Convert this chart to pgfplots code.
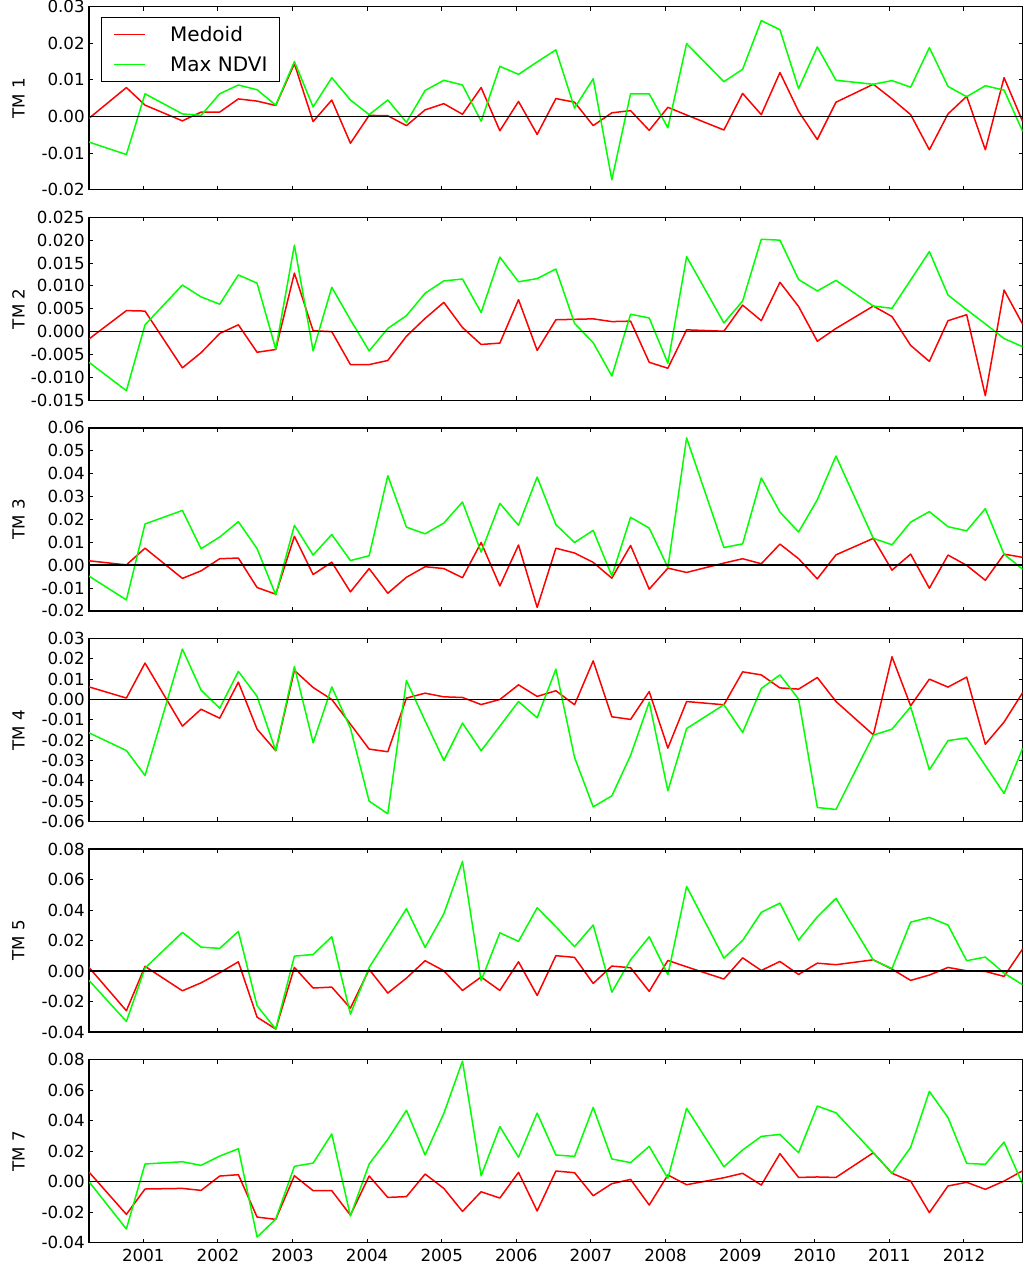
\documentclass[border=0pt]{standalone}
\usepackage{pgfplots}
\pgfplotsset{compat=1.18}
\usepackage{pgfplotstable}
\usepackage{fontspec}
\setmainfont{DejaVu Sans}
\definecolor{mred}{RGB}{255,0,0}
\definecolor{mgreen}{RGB}{0,255,0}

\pgfplotstableread{
x m g
2000.272 -0.0005 -0.0070
2000.773 0.0079 -0.0104
2001.023 0.0031 0.0062
2001.524 -0.0012 0.0007
2001.774 0.0012 0.0003
2002.024 0.0012 0.0062
2002.274 0.0048 0.0086
2002.525 0.0042 0.0073
2002.775 0.0030 0.0031
2003.025 0.0144 0.0150
2003.276 -0.0014 0.0026
2003.526 0.0045 0.0106
2003.776 -0.0073 0.0045
2004.027 0.0003 0.0005
2004.277 0.0002 0.0045
2004.527 -0.0025 -0.0016
2004.777 0.0018 0.0071
2005.028 0.0035 0.0099
2005.278 0.0006 0.0086
2005.528 0.0079 -0.0013
2005.779 -0.0039 0.0137
2006.029 0.0041 0.0115
2006.279 -0.0049 0.0149
2006.530 0.0049 0.0182
2006.780 0.0039 0.0023
2007.030 -0.0025 0.0103
2007.280 0.0010 -0.0173
2007.531 0.0016 0.0062
2007.781 -0.0038 0.0062
2008.031 0.0025 -0.0031
2008.282 0.0004 0.0199
2008.782 -0.0037 0.0095
2009.033 0.0063 0.0129
2009.283 0.0005 0.0262
2009.533 0.0120 0.0237
2009.783 0.0014 0.0076
2010.034 -0.0063 0.0190
2010.284 0.0039 0.0099
2010.785 0.0088 0.0088
2011.035 0.0048 0.0098
2011.285 0.0005 0.0080
2011.536 -0.0091 0.0188
2011.786 0.0007 0.0082
2012.036 0.0055 0.0054
2012.286 -0.0091 0.0084
2012.537 0.0106 0.0072
2012.787 -0.0014 -0.0041
}\tmA

\pgfplotstableread{
x m g
2000.272 -0.0016 -0.0067
2000.773 0.0046 -0.0129
2001.023 0.0045 0.0015
2001.524 -0.0079 0.0102
2001.774 -0.0046 0.0076
2002.024 -0.0004 0.0060
2002.274 0.0015 0.0124
2002.525 -0.0045 0.0106
2002.775 -0.0039 -0.0038
2003.025 0.0128 0.0189
2003.276 0.0002 -0.0042
2003.526 0.0000 0.0097
2003.776 -0.0072 0.0026
2004.027 -0.0072 -0.0042
2004.277 -0.0063 0.0007
2004.527 -0.0010 0.0035
2004.777 0.0029 0.0084
2005.028 0.0064 0.0111
2005.278 0.0009 0.0115
2005.528 -0.0028 0.0042
2005.779 -0.0025 0.0163
2006.029 0.0070 0.0109
2006.279 -0.0041 0.0116
2006.530 0.0026 0.0137
2006.780 0.0027 0.0018
2007.030 0.0028 -0.0024
2007.280 0.0022 -0.0097
2007.531 0.0023 0.0038
2007.781 -0.0067 0.0030
2008.031 -0.0080 -0.0069
2008.282 0.0004 0.0164
2008.782 0.0001 0.0019
2009.033 0.0058 0.0067
2009.283 0.0024 0.0202
2009.533 0.0108 0.0200
2009.783 0.0055 0.0114
2010.034 -0.0021 0.0089
2010.284 0.0007 0.0112
2010.785 0.0056 0.0056
2011.035 0.0033 0.0051
2011.285 -0.0030 0.0113
2011.536 -0.0065 0.0175
2011.786 0.0024 0.0080
2012.036 0.0037 0.0048
2012.286 -0.0140 0.0017
2012.537 0.0091 -0.0015
2012.787 0.0016 -0.0033
}\tmB

\pgfplotstableread{
x m g
2000.272 0.0019 -0.0048
2000.773 0.0001 -0.0152
2001.023 0.0074 0.0180
2001.524 -0.0058 0.0239
2001.774 -0.0025 0.0072
2002.024 0.0028 0.0123
2002.274 0.0031 0.0190
2002.525 -0.0098 0.0072
2002.775 -0.0127 -0.0130
2003.025 0.0126 0.0174
2003.276 -0.0041 0.0044
2003.526 0.0013 0.0134
2003.776 -0.0117 0.0020
2004.027 -0.0015 0.0041
2004.277 -0.0123 0.0391
2004.527 -0.0053 0.0166
2004.777 -0.0007 0.0137
2005.028 -0.0015 0.0184
2005.278 -0.0055 0.0276
2005.528 0.0099 0.0057
2005.779 -0.0091 0.0270
2006.029 0.0088 0.0174
2006.279 -0.0185 0.0385
2006.530 0.0074 0.0177
2006.780 0.0053 0.0099
2007.030 0.0012 0.0152
2007.280 -0.0057 -0.0047
2007.531 0.0086 0.0209
2007.781 -0.0105 0.0162
2008.031 -0.0013 -0.0010
2008.282 -0.0032 0.0556
2008.782 0.0009 0.0077
2009.033 0.0028 0.0093
2009.283 0.0006 0.0381
2009.533 0.0092 0.0232
2009.783 0.0028 0.0145
2010.034 -0.0060 0.0286
2010.284 0.0045 0.0477
2010.785 0.0117 0.0117
2011.035 -0.0022 0.0089
2011.285 0.0048 0.0188
2011.536 -0.0101 0.0234
2011.786 0.0044 0.0168
2012.036 -0.0001 0.0150
2012.286 -0.0066 0.0247
2012.537 0.0048 0.0048
2012.787 0.0034 -0.0018
}\tmC

\pgfplotstableread{
x m g
2000.272 0.0062 -0.0164
2000.773 0.0007 -0.0251
2001.023 0.0179 -0.0374
2001.524 -0.0131 0.0248
2001.774 -0.0048 0.0046
2002.024 -0.0092 -0.0043
2002.274 0.0085 0.0138
2002.525 -0.0146 0.0015
2002.775 -0.0252 -0.0252
2003.025 0.0143 0.0162
2003.276 0.0059 -0.0213
2003.526 0.0000 0.0062
2003.776 -0.0121 -0.0141
2004.027 -0.0244 -0.0500
2004.277 -0.0257 -0.0562
2004.527 0.0007 0.0093
2004.777 0.0031 -0.0105
2005.028 0.0013 -0.0300
2005.278 0.0010 -0.0116
2005.528 -0.0025 -0.0252
2005.779 0.0000 -0.0131
2006.029 0.0072 -0.0010
2006.279 0.0015 -0.0090
2006.530 0.0043 0.0149
2006.780 -0.0026 -0.0285
2007.030 0.0190 -0.0528
2007.280 -0.0085 -0.0474
2007.531 -0.0098 -0.0275
2007.781 0.0039 -0.0013
2008.031 -0.0239 -0.0449
2008.282 -0.0010 -0.0143
2008.782 -0.0026 -0.0026
2009.033 0.0136 -0.0162
2009.283 0.0121 0.0054
2009.533 0.0057 0.0121
2009.783 0.0051 0.0002
2010.034 0.0108 -0.0531
2010.284 -0.0010 -0.0541
2010.785 -0.0174 -0.0175
2011.035 0.0210 -0.0146
2011.285 -0.0031 -0.0036
2011.536 0.0100 -0.0346
2011.786 0.0061 -0.0202
2012.036 0.0110 -0.0189
2012.286 -0.0220 -0.0325
2012.537 -0.0111 -0.0462
2012.787 0.0034 -0.0239
}\tmD

\pgfplotstableread{
x m g
2000.272 0.0024 -0.0061
2000.773 -0.0260 -0.0330
2001.023 0.0031 0.0020
2001.524 -0.0129 0.0254
2001.774 -0.0077 0.0157
2002.024 -0.0011 0.0149
2002.274 0.0061 0.0260
2002.525 -0.0302 -0.0227
2002.775 -0.0380 -0.0380
2003.025 0.0024 0.0098
2003.276 -0.0111 0.0109
2003.526 -0.0105 0.0225
2003.776 -0.0243 -0.0282
2004.027 0.0011 0.0024
2004.277 -0.0144 0.0216
2004.527 -0.0046 0.0409
2004.777 0.0068 0.0155
2005.028 0.0002 0.0376
2005.278 -0.0127 0.0719
2005.528 -0.0039 -0.0063
2005.779 -0.0127 0.0251
2006.029 0.0061 0.0195
2006.279 -0.0160 0.0415
2006.530 0.0101 0.0291
2006.780 0.0090 0.0160
2007.030 -0.0081 0.0302
2007.280 0.0033 -0.0138
2007.531 0.0022 0.0074
2007.781 -0.0133 0.0225
2008.031 0.0070 -0.0024
2008.282 0.0028 0.0555
2008.782 -0.0052 0.0085
2009.033 0.0087 0.0201
2009.283 0.0004 0.0385
2009.533 0.0063 0.0446
2009.783 -0.0022 0.0203
2010.034 0.0052 0.0356
2010.284 0.0042 0.0477
2010.785 0.0074 0.0072
2011.035 0.0013 0.0017
2011.285 -0.0061 0.0321
2011.536 -0.0026 0.0352
2011.786 0.0024 0.0302
2012.036 0.0002 0.0068
2012.286 -0.0002 0.0092
2012.537 -0.0035 -0.0013
2012.787 0.0146 -0.0090
}\tmE

\pgfplotstableread{
x m g
2000.272 0.0063 0.0000
2000.773 -0.0214 -0.0310
2001.023 -0.0048 0.0116
2001.524 -0.0044 0.0131
2001.774 -0.0057 0.0107
2002.024 0.0037 0.0168
2002.274 0.0046 0.0216
2002.525 -0.0232 -0.0363
2002.775 -0.0247 -0.0245
2003.025 0.0039 0.0101
2003.276 -0.0059 0.0122
2003.526 -0.0059 0.0313
2003.776 -0.0219 -0.0225
2004.027 0.0037 0.0116
2004.277 -0.0103 0.0278
2004.527 -0.0098 0.0468
2004.777 0.0050 0.0175
2005.028 -0.0044 0.0448
2005.278 -0.0195 0.0791
2005.528 -0.0066 0.0039
2005.779 -0.0107 0.0361
2006.029 0.0061 0.0160
2006.279 -0.0192 0.0450
2006.530 0.0070 0.0175
2006.780 0.0059 0.0166
2007.030 -0.0092 0.0487
2007.280 -0.0013 0.0149
2007.531 0.0015 0.0125
2007.781 -0.0153 0.0232
2008.031 0.0044 0.0022
2008.282 -0.0020 0.0481
2008.782 0.0026 0.0098
2009.033 0.0055 0.0208
2009.283 -0.0022 0.0297
2009.533 0.0184 0.0310
2009.783 0.0028 0.0190
2010.034 0.0031 0.0496
2010.284 0.0028 0.0452
2010.785 0.0190 0.0190
2011.035 0.0055 0.0055
2011.285 0.0004 0.0225
2011.536 -0.0203 0.0592
2011.786 -0.0028 0.0420
2012.036 -0.0004 0.0120
2012.286 -0.0050 0.0114
2012.537 0.0004 0.0260
2012.787 0.0072 -0.0017
}\tmF

\pgfplotsset{
  tmpanel/.style={
    scale only axis, width=672.26pt, height=131.76pt,
    anchor=north west,
    xmin=2000.272, xmax=2012.787,
    xtick={2001,2002,2003,2004,2005,2006,2007,2008,2009,2010,2011,2012},
    xticklabels={},
    scaled x ticks=false, scaled y ticks=false,
    tick align=inside, tick pos=both,
    xticklabel pos=left, yticklabel pos=left,
    major tick length=2.9pt,
    axis line style={black, line width=0.9pt},
    every tick/.style={black, line width=0.72pt},
    tick label style={font=\fontsize{12}{14}\selectfont},
    yticklabel style={inner sep=0pt, xshift=-2.9pt},
    xticklabel style={inner sep=0pt, yshift=-4.2pt},
    label style={font=\fontsize{12}{14}\selectfont},
    ylabel style={at={(axis description cs:-0.0755,0.5)}, anchor=center},
    every axis plot/.append style={line width=1.08pt, line join=round},
  },
  zeroline/.style={black, line width=1.0pt, forget plot},
}

\begin{document}
\begin{tikzpicture}
\useasboundingbox (0,0) rectangle (737.28pt,909.36pt);

\begin{axis}[tmpanel, at={(64.08pt,904.54pt)},
  ymin=-0.02, ymax=0.03,
  ytick={-0.02,-0.01,0,0.01,0.02,0.03},
  yticklabels={-0.02,-0.01,0.00,0.01,0.02,0.03},
  ylabel={TM 1},
  legend style={at={(rel axis cs:0.01253,0.9422)}, anchor=north west,
    draw=black, line width=0.72pt, fill=white,
    font=\fontsize{14.4}{17}\selectfont,
    inner xsep=9pt, inner ysep=6.9pt, row sep=11.1pt, column sep=17.3pt,
    nodes={inner sep=0pt, text height=10.5pt, text depth=0pt},
    cells={anchor=west}},
  legend image code/.code={\draw[#1, line width=1.08pt] (0pt,0pt) -- (22.3pt,0pt);},
]
\addplot[mred] table[x=x,y=m]{\tmA};
\addlegendentry{Medoid}
\addplot[mgreen] table[x=x,y=g]{\tmA};
\addlegendentry{Max NDVI}
\addplot[zeroline] coordinates {(2000,0) (2014,0)};
\end{axis}

\begin{axis}[tmpanel, at={(64.08pt,752.90pt)},
  ymin=-0.015, ymax=0.025,
  ytick={-0.015,-0.01,-0.005,0,0.005,0.01,0.015,0.02,0.025},
  yticklabels={-0.015,-0.010,-0.005,0.000,0.005,0.010,0.015,0.020,0.025},
  ylabel={TM 2}]
\addplot[mred] table[x=x,y=m]{\tmB};
\addplot[mgreen] table[x=x,y=g]{\tmB};
\addplot[zeroline] coordinates {(2000,0) (2014,0)};
\end{axis}

\begin{axis}[tmpanel, at={(64.08pt,601.27pt)},
  ymin=-0.02, ymax=0.06,
  ytick={-0.02,-0.01,0,0.01,0.02,0.03,0.04,0.05,0.06},
  yticklabels={-0.02,-0.01,0.00,0.01,0.02,0.03,0.04,0.05,0.06},
  ylabel={TM 3}]
\addplot[mred] table[x=x,y=m]{\tmC};
\addplot[mgreen] table[x=x,y=g]{\tmC};
\addplot[zeroline] coordinates {(2000,0) (2014,0)};
\end{axis}

\begin{axis}[tmpanel, at={(64.08pt,449.64pt)},
  ymin=-0.06, ymax=0.03,
  ytick={-0.06,-0.05,-0.04,-0.03,-0.02,-0.01,0,0.01,0.02,0.03},
  yticklabels={-0.06,-0.05,-0.04,-0.03,-0.02,-0.01,0.00,0.01,0.02,0.03},
  ylabel={TM 4}]
\addplot[mred] table[x=x,y=m]{\tmD};
\addplot[mgreen] table[x=x,y=g]{\tmD};
\addplot[zeroline] coordinates {(2000,0) (2014,0)};
\end{axis}

\begin{axis}[tmpanel, at={(64.08pt,298.01pt)},
  ymin=-0.04, ymax=0.08,
  ytick={-0.04,-0.02,0,0.02,0.04,0.06,0.08},
  yticklabels={-0.04,-0.02,0.00,0.02,0.04,0.06,0.08},
  ylabel={TM 5}]
\addplot[mred] table[x=x,y=m]{\tmE};
\addplot[mgreen] table[x=x,y=g]{\tmE};
\addplot[zeroline] coordinates {(2000,0) (2014,0)};
\end{axis}

\begin{axis}[tmpanel, at={(64.08pt,146.38pt)},
  ymin=-0.04, ymax=0.08,
  ytick={-0.04,-0.02,0,0.02,0.04,0.06,0.08},
  yticklabels={-0.04,-0.02,0.00,0.02,0.04,0.06,0.08},
  xticklabels={2001,2002,2003,2004,2005,2006,2007,2008,2009,2010,2011,2012},
  ylabel={TM 7}]
\addplot[mred] table[x=x,y=m]{\tmF};
\addplot[mgreen] table[x=x,y=g]{\tmF};
\addplot[zeroline] coordinates {(2000,0) (2014,0)};
\end{axis}
\end{tikzpicture}
\end{document}
